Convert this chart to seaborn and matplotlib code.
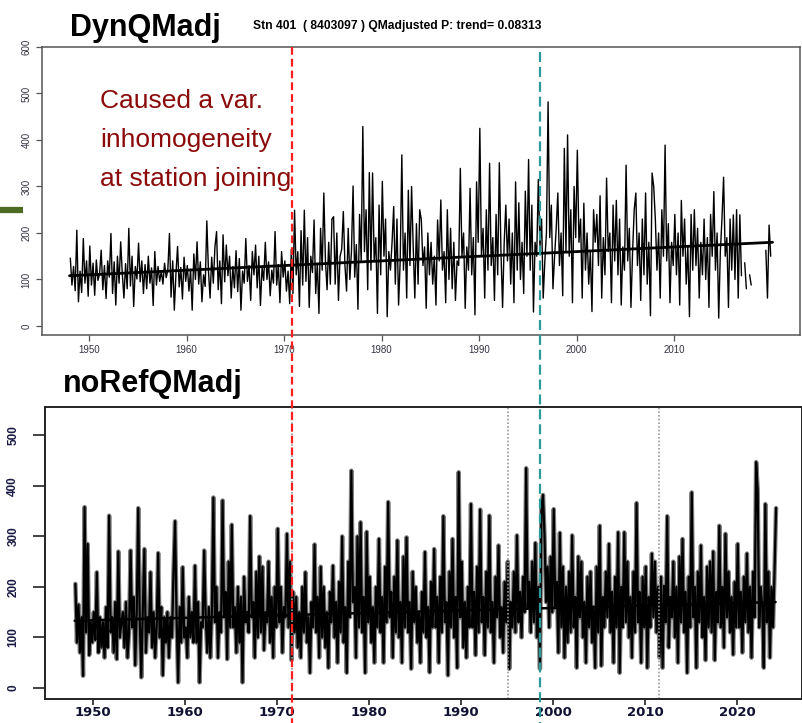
import numpy as np
import pandas as pd
import matplotlib
matplotlib.use("Agg")
import matplotlib.pyplot as plt
import matplotlib.transforms as mtransforms
from matplotlib.lines import Line2D
import seaborn as sns

nan = np.nan

# ---------------- data (bi-monthly values) ----------------
top_start_year = 1948
top_1940s = [146, 88, 128, 76, 206, 52,
             118, 72, 188, 92, 140, 64]
top_1950s = [172, 88, 135, 66, 142, 98,
             112, 163, 78, 130, 59, 140,
             105, 199, 70, 138, 45, 150,
             92, 181, 112, 60, 134, 80,
             210, 86, 150, 42, 128, 101,
             178, 95, 140, 70, 132, 80,
             150, 92, 125, 44, 160, 88,
             128, 96, 118, 90, 135, 104,
             120, 199, 62, 140, 34, 112,
             171, 84, 126, 58, 148, 96]
top_1960s = [130, 75, 122, 34, 155, 100,
             181, 90, 138, 52, 110, 85,
             226, 120, 60, 148, 92, 170,
             203, 78, 140, 48, 196, 95,
             174, 108, 150, 60, 128, 82,
             162, 74, 145, 34, 118, 92,
             188, 96, 130, 55, 160, 110,
             174, 82, 150, 44, 126, 98,
             180, 100, 138, 65, 120, 92,
             203, 88, 132, 50, 160, 105]
top_1970s = [140, 75, 118, 48, 165, 70,
             249, 110, 160, 42, 205, 88,
             249, 96, 190, 40, 150, 115,
             228, 70, 135, 27, 210, 120,
             286, 140, 78, 180, 90, 230,
             235, 90, 200, 55, 150, 165,
             246, 130, 75, 210, 100, 160,
             301, 105, 175, 36, 240, 140,
             429, 160, 250, 78, 330, 120,
             329, 140, 190, 27, 260, 110]
top_1980s = [311, 150, 230, 20, 160, 120,
             180, 257, 90, 230, 45, 140,
             368, 120, 200, 60, 292, 130,
             300, 170, 60, 220, 90, 250,
             228, 130, 170, 38, 200, 110,
             180, 90, 150, 45, 228, 140,
             271, 120, 160, 50, 250, 100,
             210, 80, 180, 55, 140, 130,
             339, 150, 200, 38, 170, 120,
             296, 110, 190, 24, 310, 180]
top_1990s = [425, 150, 210, 60, 250, 120,
             350, 130, 190, 55, 240, 110,
             351, 160, 40, 180, 260, 140,
             230, 90, 200, 50, 310, 120,
             265, 100, 180, 70, 290, 150,
             358, 120, 260, 30, 180, 150,
             315, 170, 230, 60, 140, 200,
             482, 190, 260, 80, 150, 210,
             286, 130, 200, 65, 382, 160,
             411, 150, 250, 50, 300, 190]
top_2000s = [378, 180, 230, 60, 264, 120,
             200, 90, 160, 31, 250, 180,
             240, 130, 280, 60, 190, 110,
             318, 160, 200, 50, 260, 140,
             270, 110, 230, 45, 170, 120,
             346, 140, 210, 40, 160, 250,
             286, 130, 200, 55, 230, 110,
             286, 90, 180, 22, 329, 300,
             230, 120, 200, 60, 250, 150,
             389, 140, 220, 50, 180, 130]
top_2010s = [240, 110, 200, 45, 270, 150,
             230, 90, 170, 20, 240, 120,
             250, 130, 210, 60, 180, 110,
             230, 100, 190, 40, 240, 150,
             289, 120, 200, 17, 160, 230,
             320, 150, 190, 40, 230, 120,
             239, 100, 250, 60, 239, 108,
             nan, 136, 80, nan, 110, 88,
             nan, nan, nan, nan, nan, nan,
             nan, nan, 163, 60, 217, 150]

bot_start_year = 1948
bot_1940s = [206, 90, 165, 70, 140, 24,
             358, 110, 285, 65, 130, 90]
bot_1950s = [150, 95, 229, 70, 140, 80,
             130, 60, 160, 80, 341, 110,
             140, 70, 170, 57, 270, 100,
             130, 150, 80, 170, 60, 110,
             272, 120, 180, 45, 150, 356,
             130, 21, 160, 275, 70, 140,
             110, 229, 80, 150, 60, 120,
             267, 100, 160, 25, 140, 90,
             150, 60, 140, 100, 230, 330,
             140, 11, 160, 90, 239, 100]
bot_1960s = [120, 60, 180, 100, 150, 90,
             242, 90, 170, 11, 130, 120,
             272, 140, 70, 160, 60, 150,
             377, 130, 200, 60, 150, 110,
             371, 140, 190, 57, 250, 120,
             323, 120, 160, 70, 200, 90,
             180, 11, 220, 130, 150, 110,
             340, 140, 170, 60, 230, 100,
             260, 110, 240, 75, 150, 130,
             250, 90, 180, 60, 200, 120]
bot_1970s = [315, 130, 200, 70, 160, 140,
             305, 120, 250, 55, 190, 110,
             180, 80, 150, 60, 200, 110,
             229, 90, 140, 30, 170, 120,
             284, 110, 180, 60, 240, 100,
             200, 80, 150, 40, 190, 130,
             242, 100, 170, 50, 210, 110,
             300, 90, 160, 30, 250, 140,
             430, 170, 200, 60, 300, 120,
             328, 110, 180, 30, 309, 130]
bot_1980s = [220, 90, 160, 50, 200, 120,
             295, 110, 180, 50, 240, 130,
             368, 140, 190, 60, 220, 110,
             292, 100, 170, 50, 260, 120,
             298, 110, 170, 38, 230, 130,
             200, 90, 150, 50, 190, 110,
             269, 100, 160, 31, 210, 120,
             275, 120, 180, 50, 220, 110,
             340, 130, 170, 25, 230, 120,
             295, 100, 180, 40, 427, 140]
bot_1990s = [250, 80, 170, 60, 200, 120,
             364, 120, 190, 65, 240, 110,
             353, 130, 180, 65, 230, 120,
             341, 110, 170, 50, 220, 140,
             282, 100, 160, 70, 210, 130,
             250, 38, 170, 120, 230, 110,
             302, 130, 190, 100, 220, 150,
             435, 160, 210, 110, 250, 130,
             287, 100, 200, 38, 360, 382,
             300, 170, 240, 120, 260, 150]
bot_2000s = [354, 160, 210, 70, 307, 120,
             240, 60, 200, 90, 230, 110,
             302, 120, 180, 40, 260, 140,
             250, 100, 170, 50, 220, 120,
             230, 90, 160, 40, 240, 110,
             321, 44, 180, 120, 230, 140,
             285, 110, 190, 50, 220, 120,
             308, 30, 200, 120, 308, 130,
             250, 100, 180, 60, 230, 110,
             366, 130, 190, 50, 220, 120]
bot_2010s = [240, 40, 180, 120, 266, 140,
             250, 110, 200, 60, 220, 40,
             202, 130, 340, 80, 180, 140,
             250, 100, 200, 50, 260, 130,
             295, 110, 190, 30, 220, 120,
             387, 140, 200, 40, 230, 130,
             282, 100, 180, 55, 240, 120,
             250, 110, 270, 55, 190, 130,
             321, 120, 200, 80, 305, 140,
             230, 110, 180, 66, 210, 120]
bot_2020s = [285, 120, 190, 70, 220, 130,
             266, 110, 200, 60, 230, 140,
             447, 393, 120, 200, 160, 40,
             364, 130, 230, 60, 200, 120,
             230, 356]

# trend lines (start/end)
top_trend_years = [1948.0, 2020.1]
top_trend_vals = [108, 180]
bot_trend_years = [1948.0, 2024.2]
bot_trend_vals = [133, 170]

# change points
red_break_year = 1971.6        # bottom-panel year (same place in top panel)
teal_break_year = 1998.6
grey_dotted_years = [1971.6, 1995.1, 2011.5]

top_title = "DynQMadj"
top_subtitle = "Stn 401  ( 8403097 ) QMadjusted P: trend= 0.08313"
bot_title = "noRefQMadj"
note_lines = ["Caused a var.", "inhomogeneity", "at station joining"]
top_xticks = [1950, 1960, 1970, 1980, 1990, 2000, 2010]
top_yticks = [0, 100, 200, 300, 400, 500, 600]
bot_xticks = [1950, 1960, 1970, 1980, 1990, 2000, 2010, 2020]
bot_yticks = [0, 100, 200, 300, 400, 500]


def make_frame(values, start):
    vals = np.array(values, dtype=float)
    yrs = start + np.arange(len(vals)) / 6.0 + 1.0 / 12.0
    seg = np.cumsum(np.isnan(vals))
    df = pd.DataFrame({"year": yrs, "value": vals, "seg": seg})
    return df.dropna()


top_df = make_frame(top_1940s + top_1950s + top_1960s + top_1970s + top_1980s
                    + top_1990s + top_2000s + top_2010s, top_start_year)
bot_df = make_frame(bot_1940s + bot_1950s + bot_1960s + bot_1970s + bot_1980s
                    + bot_1990s + bot_2000s + bot_2010s + bot_2020s, bot_start_year)
top_trend = pd.DataFrame({"year": top_trend_years, "value": top_trend_vals})
bot_trend = pd.DataFrame({"year": bot_trend_years, "value": bot_trend_vals})

# ---------------- figure ----------------
sns.set_style("white")
plt.rcParams["font.family"] = ["Liberation Sans", "DejaVu Sans"]

W, H = 803, 723
fig = plt.figure(figsize=(W / 100, H / 100), dpi=100)


def box(l, t, r, b):
    return [l / W, 1 - b / H, (r - l) / W, (b - t) / H]


ax1 = fig.add_axes(box(42, 47, 800, 335))
ax2 = fig.add_axes(box(45, 407, 802, 699))

# top panel
sns.lineplot(data=top_df, x="year", y="value", units="seg", estimator=None,
             color="black", lw=1.0, ax=ax1, sort=True)
sns.lineplot(data=top_trend, x="year", y="value", color="black", lw=2.0, ax=ax1)
ax1.set_xlim(1945.18, 2022.92)
ax1.set_ylim(-19.4, 600)
ax1.set_xticks(top_xticks)
ax1.set_yticks(top_yticks)
ax1.set_xlabel("")
ax1.set_ylabel("")
for s in ax1.spines.values():
    s.set_color("#555555")
    s.set_linewidth(1.1)
ax1.tick_params(axis="both", direction="out", length=4, width=0.9,
                color="#555555", labelsize=7, labelcolor="#333344",
                bottom=True, left=True)
for lab in ax1.get_yticklabels():
    lab.set_rotation(90)
    lab.set_va("center")

# bottom panel
sns.lineplot(data=bot_df, x="year", y="value", units="seg", estimator=None,
             color="#808080", lw=3.2, ax=ax2, sort=True)
sns.lineplot(data=bot_df, x="year", y="value", units="seg", estimator=None,
             color="black", lw=1.6, ax=ax2, sort=True)
sns.lineplot(data=bot_trend, x="year", y="value", color="black", lw=1.8, ax=ax2)
for yv in grey_dotted_years:
    ax2.axvline(yv, color="#9a9a9a", lw=1.2, ls=(0, (1, 1.2)))
ax2.set_xlim(1944.78, 2027.07)
ax2.set_ylim(-21.8, 556)
ax2.set_xticks(bot_xticks)
ax2.set_yticks(bot_yticks)
ax2.set_xlabel("")
ax2.set_ylabel("")
for s in ax2.spines.values():
    s.set_color("#222222")
    s.set_linewidth(1.4)
ax2.tick_params(axis="both", direction="out", width=1.2,
                color="#222222", bottom=True, left=True)
ax2.tick_params(axis="x", length=4, pad=1, labelsize=9.5, labelcolor="#111133")
ax2.tick_params(axis="y", length=8.5, pad=10, labelsize=8.5, labelcolor="#1a1a44")
for lab in ax2.get_xticklabels():
    lab.set_family(["DejaVu Sans"])
    lab.set_fontweight("bold")
for lab in ax2.get_yticklabels():
    lab.set_rotation(90)
    lab.set_va("center")
    lab.set_fontweight("bold")

# figure-wide break lines
tr = mtransforms.blended_transform_factory(ax2.transData, fig.transFigure)
fig.add_artist(Line2D([red_break_year, red_break_year], [1 - 47 / H, 0], transform=tr,
                      color="#ff1e1e", lw=1.6, ls=(0, (3.5, 1.8)), zorder=10))
fig.add_artist(Line2D([teal_break_year, teal_break_year], [1 - 52 / H, 0], transform=tr,
                      color="#2a9a9a", lw=1.6, ls=(0, (4.5, 2.2)), zorder=10))

# texts
fig.text(70 / W, 1 - 36 / H, top_title, fontsize=22, fontweight="bold",
         ha="left", va="baseline", color="black")
fig.text(253 / W, 1 - 28.5 / H, top_subtitle, fontsize=8.7, fontweight="bold",
         ha="left", va="baseline", color="black")
fig.text(63 / W, 1 - 392 / H, bot_title, fontsize=22, fontweight="bold",
         ha="left", va="baseline", color="black")
for line, base in zip(note_lines, [108, 147, 186]):
    fig.text(100 / W, 1 - base / H, line, fontsize=19, color="#8b0a0a",
             ha="left", va="baseline")

# green marker on the left edge
fig.add_artist(Line2D([0, 23 / W], [1 - 210 / H, 1 - 210 / H], transform=fig.transFigure,
                      color="#4e6b23", lw=4.5, solid_capstyle="butt"))

fig.savefig("out.png", dpi=100)
